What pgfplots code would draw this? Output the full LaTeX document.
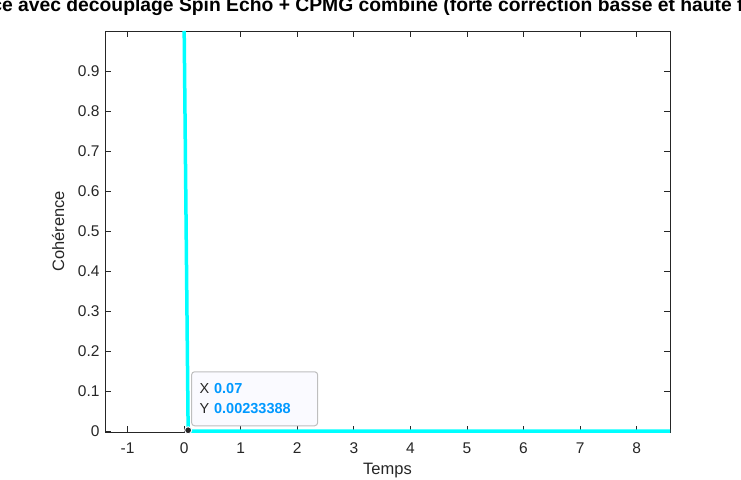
\documentclass[border=0pt]{standalone}
\usepackage{pgfplots}
\usepackage{fontspec}
\setmainfont{Liberation Sans}
\pgfplotsset{compat=1.18}
\definecolor{axgray}{RGB}{38,38,38}
\definecolor{tipblue}{RGB}{0,153,255}
\definecolor{tipfill}{RGB}{250,250,255}
\definecolor{tipedge}{RGB}{190,190,190}
\definecolor{linecyan}{RGB}{0,255,255}

\begin{document}
\begin{tikzpicture}
\path[use as bounding box] (0pt,0pt) rectangle (741pt,479pt);
\clip (0pt,0pt) rectangle (741pt,479pt);
\begin{axis}[
    at={(105pt,47pt)}, anchor=south west,
    scale only axis,
    width=565pt, height=401pt,
    xmin=-1.4, xmax=8.59,
    ymin=-0.002, ymax=1.0,
    xtick={-1,0,1,2,3,4,5,6,7,8},
    xticklabels={-1,0,1,2,3,4,5,6,7,8},
    ytick={0,0.1,0.2,0.3,0.4,0.5,0.6,0.7,0.8,0.9},
    yticklabels={0,0.1,0.2,0.3,0.4,0.5,0.6,0.7,0.8,0.9},
    tick pos=both, tick align=inside,
    major tick length=6pt,
    every tick/.style={axgray, line width=0.8pt},
    axis line style={axgray, line width=0.8pt},
    tick label style={font=\fontsize{15.5}{18}\selectfont, text=axgray},
    xticklabel style={yshift=-7pt},
    yticklabel style={xshift=-2pt},
    xlabel={Temps},
    ylabel={Cohérence},
    label style={font=\fontsize{16.5}{19}\selectfont, text=axgray},
    xlabel style={at={(axis description cs:0.5,-0.105)}, anchor=base},
    ylabel style={at={(axis description cs:-0.083,0.5)}, anchor=center},
    title={Cohérence avec découplage Spin Echo + CPMG combiné (forte correction basse et haute fréquence)},
    title style={at={(axis description cs:0.5,1)}, anchor=base, yshift=13.5pt, xshift=-13pt, font=\bfseries\fontsize{19.3}{22}\selectfont},
    clip mode=individual,
]
\addplot[linecyan, line width=3.5pt] coordinates {
    (0,1) (0.07,0.00233388) (0.14,0.0000054) (0.21,0) (1,0) (2,0) (3,0)
    (4,0) (5,0) (6,0) (7,0) (8,0) (9,0) (10,0)
};
\addplot[only marks, mark=*, mark size=3.5pt,
    mark options={fill=axgray, draw=tipfill, line width=1pt}]
    coordinates {(0.07,0.00233388)};
\node[anchor=south west, xshift=3pt, yshift=4pt,
    minimum width=126pt, minimum height=54pt, rounded corners=3pt,
    draw=tipedge, line width=1pt, fill=tipfill,
    align=left, text width=110pt, inner xsep=8pt,
    font=\fontsize{14.5}{20}\selectfont, text=axgray]
    at (axis cs:0.07,0.00233388)
    {X \textcolor{tipblue}{\textbf{0.07}}\\Y \textcolor{tipblue}{\textbf{0.00233388}}};
\end{axis}
\end{tikzpicture}
\end{document}
